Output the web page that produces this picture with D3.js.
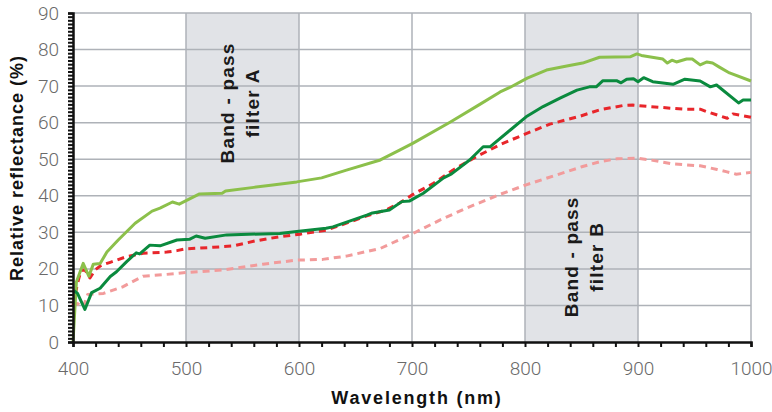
<!DOCTYPE html>
<html>
<head>
<meta charset="utf-8">
<script src="https://cdn.jsdelivr.net/npm/d3@7"></script>
<style>
  body { margin: 0; background: #fff; }
  svg { display: block; }
</style>
</head>
<body>
<svg id="chart" width="772" height="412"></svg>
<script>
// DATA
// --------------------------------------
var xTickLabels = [400, 500, 600, 700, 800, 900, 1000];
var yTickLabels = [0, 10, 20, 30, 40, 50, 60, 70, 80, 90];

// shaded filter bands [from, to] in nm
var bands = [[500, 600], [800, 900]];
var bandLabels = [
    { nm: 550, value: 65.4, lines: ['Band - pass', 'filter A'], shift: -9 },
    { nm: 850, value: 23.3, lines: ['Band - pass', 'filter B'], shift: -4 }
];

// [wavelength nm, reflectance %]
var lightGreen = [[400,0],[403,16.4],[409,21.5],[414,18],[418,21.3],[424,21.5],[430,24.6],[440,27.9],
    [455,32.5],[470,35.8],[477,36.6],[488,38.3],[494,37.7],[501,38.8],[512,40.5],[532,40.7],[535,41.3],
    [560,42.3],[575,42.9],[598,43.8],[620,44.9],[642,47.0],[672,49.8],[689,52.5],[701,54.4],[734,60.2],
    [760,65],[778,68.4],[787,69.7],[802,72.2],[819,74.4],[837,75.5],[851,76.3],[866,77.9],[893,78.0],
    [899,78.8],[903,78.4],[922,77.4],[926,76.3],[930,77.1],[934,76.6],[943,77.4],[948,77.4],[955,75.8],
    [961,76.6],[966,76.3],[972,75.2],[981,73.6],[1000,71.4]];

var darkGreen = [[401,14],[404,13.3],[410.5,8.9],[416.5,13.5],[424,14.7],[433,17.9],[438.5,19.2],[447.5,22],
    [456,24.4],[459,24.1],[468,26.5],[477,26.3],[492,27.9],[503,28.1],[509,29],[517,28.4],[536,29.3],
    [583,29.7],[598,30.2],[624,31.1],[630,31.5],[660,34.7],[665,35.3],[680,36.1],[691,38.4],[698,38.6],
    [710,40.7],[728,44.9],[735,46],[751,49.8],[763,53.4],[769,53.4],[787,58],[801,61.6],[816,64.4],
    [831,66.7],[846,68.9],[857,69.8],[863,69.8],[869,71.5],[881,71.5],[885,70.9],[890,71.9],[896,72],
    [900,71.2],[905,72.3],[913,71.2],[931,70.5],[941.5,71.9],[955,71.4],[964,69.8],[969.5,70.3],
    [989,65.4],[993,66.2],[1000,66.2]];

var redDashed = [[400,10],[404,16],[407,19.5],[410.5,19.8],[415,17.5],[419.5,19.7],[425,21],[433,21.8],
    [447,23.3],[462,24.3],[483,24.6],[492,25],[500,25.5],[524,25.9],[542,26.3],[562,27.7],[583,28.8],
    [601,29.5],[624,30.6],[642,32.5],[660,34.5],[677,36.1],[689,38],[701,40.4],[719,43.4],[736,47],
    [757,50.7],[778,54],[801,57],[822,59.6],[849,61.8],[866,63.5],[887,64.7],[896,64.8],[911,64.4],
    [940,63.7],[955,63.7],[961,63],[979,61.2],[984,62.4],[1000,61.5]];

var pinkDashed = [[400,10],[404,10.5],[409,9.5],[413,13],[427,13.3],[444,15.1],[462,18],[483,18.5],
    [500,19],[533,19.7],[568,21.3],[598,22.4],[621,22.6],[642,23.5],[672,25.6],[701,29.7],[725,33.4],
    [748,36.6],[778,40.4],[801,43],[828,45.7],[851,48],[866,49.3],[881,50.1],[898,50.3],[911,49.8],
    [931,48.7],[955,48.2],[970,47.2],[978,46.6],[987,45.9],[1000,46.4]];

// --------------------------------------
// SETUP
// --------------------------------------
var svg = d3.select('#chart');
var x = d3.scaleLinear().domain([400, 1000]).range([73, 751]);
var y = d3.scaleLinear().domain([0, 90]).range([342, 13]);

// bands
svg.append('g').selectAll('rect')
    .data(bands).enter().append('rect')
    .attr('x', function(d){ return x(d[0]); })
    .attr('width', function(d){ return x(d[1]) - x(d[0]); })
    .attr('y', y(90))
    .attr('height', y(0) - y(90))
    .attr('fill', '#e1e3e7');

// grid
var grid = svg.append('g').attr('stroke', '#aeb2b8').attr('stroke-width', 1.5);
grid.selectAll('.h').data(yTickLabels.slice(1)).enter().append('line')
    .attr('x1', x(400)).attr('x2', x(1000))
    .attr('y1', function(d){ return y(d); }).attr('y2', function(d){ return y(d); });
grid.selectAll('.v').data(xTickLabels.slice(1)).enter().append('line')
    .attr('y1', y(0)).attr('y2', y(90))
    .attr('x1', function(d){ return x(d); }).attr('x2', function(d){ return x(d); });

// lines
var line = d3.line()
    .x(function(d){ return x(d[0]); })
    .y(function(d){ return y(d[1]); });

var series = [
    { data: pinkDashed, color: '#f29b9b', width: 3, dash: '7,5' },
    { data: redDashed, color: '#e8262b', width: 3, dash: '7,5' },
    { data: lightGreen, color: '#8cc04b', width: 3, dash: null },
    { data: darkGreen, color: '#0a8a3e', width: 3, dash: null }
];
series.forEach(function(s){
    svg.append('path')
        .datum(s.data)
        .attr('d', line)
        .attr('fill', 'none')
        .attr('stroke', s.color)
        .attr('stroke-width', s.width)
        .attr('stroke-linejoin', 'round')
        .attr('stroke-dasharray', s.dash);
});

// axes
var labelFont = 'Roboto, "Liberation Sans", Arial, sans-serif';

var yAxis = d3.axisLeft(y)
    .tickValues(d3.range(0, 91, 1))
    .tickSize(5).tickPadding(9)
    .tickFormat(function(d){ return d % 10 === 0 ? d : ''; });
var gy = svg.append('g').attr('transform', 'translate(' + x(400) + ',0)').call(yAxis);

var xAxis = d3.axisBottom(x)
    .tickValues(d3.range(400, 1001, 20))
    .tickSize(5).tickPadding(15)
    .tickFormat(function(d){ return d % 100 === 0 ? d : ''; });
var gx = svg.append('g').attr('transform', 'translate(0,' + y(0) + ')').call(xAxis);

[gy, gx].forEach(function(g){
    g.select('.domain').attr('stroke', '#111').attr('stroke-width', 2.5);
    g.selectAll('.tick line').attr('stroke', '#111').attr('stroke-width', 2);
    g.selectAll('.tick text')
        .attr('font-family', labelFont)
        .attr('font-weight', 300)
        .attr('font-size', 19)
        .attr('fill', '#6a6a6a');
});

// titles
var titleFont = '"Liberation Sans", Arial, sans-serif';
svg.append('text')
    .attr('x', 417).attr('y', 404)
    .attr('text-anchor', 'middle')
    .attr('font-family', titleFont).attr('font-weight', 'bold')
    .attr('font-size', 18).attr('letter-spacing', 1.8)
    .attr('fill', '#111')
    .text('Wavelength (nm)');

svg.append('text')
    .attr('transform', 'translate(23,168) rotate(-90)')
    .attr('text-anchor', 'middle')
    .attr('font-family', titleFont).attr('font-weight', 'bold')
    .attr('font-size', 18).attr('letter-spacing', 1)
    .attr('fill', '#111')
    .text('Relative reflectance (%)');

// band labels
bandLabels.forEach(function(b){
    var g = svg.append('g')
        .attr('transform', 'translate(' + (x(b.nm) + b.shift) + ',' + y(b.value) + ') rotate(-90)');
    b.lines.forEach(function(t, i){
        g.append('text')
            .attr('x', 0).attr('y', i * 25.5)
            .attr('text-anchor', 'middle')
            .attr('font-family', titleFont).attr('font-weight', 'bold')
            .attr('font-size', 19).attr('letter-spacing', 1.2)
            .attr('fill', '#1a1a1a')
            .text(t);
    });
});
</script>
</body>
</html>
